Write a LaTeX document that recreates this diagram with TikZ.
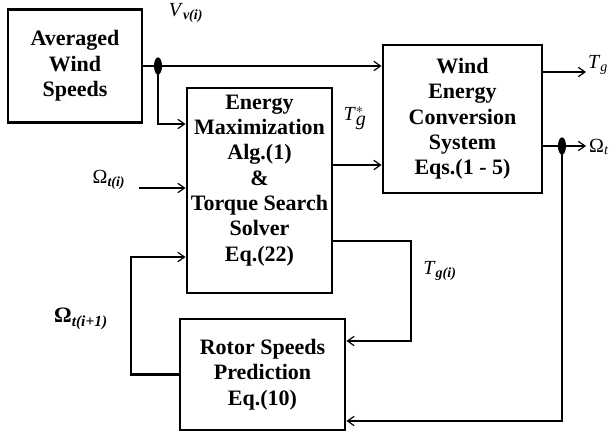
\documentclass[tikz,border=0pt]{standalone}
\usepackage{fontspec}
\setmainfont{Liberation Serif}
\usetikzlibrary{arrows.meta, shapes.geometric}

\begin{document}
\begin{tikzpicture}[x=0.75pt, y=-0.75pt,
    block/.style={draw, line width=2.2pt, align=center, inner sep=2pt,
        font=\bfseries\fontsize{16.5}{19}\selectfont},
    flow/.style={line width=2.2pt, -{Straight Barb[length=5pt, width=7pt, line width=0.9pt]}},
    sig/.style={inner sep=0pt, font=\fontsize{15}{17}\selectfont},
    dot/.style={fill, ellipse, inner sep=0pt, minimum width=6pt, minimum height=13pt}]
\useasboundingbox (0,0) rectangle (611,435);

% Blocks
\node[block, minimum width=134*0.75pt, minimum height=113*0.75pt] (avg) at (75,66) {Averaged\\Wind\\Speeds};
\node[block, minimum width=145*0.75pt, minimum height=205*0.75pt] (emax) at (259.5,190.5)
    {Energy\\Maximization\\Alg.(1)\\\&\\Torque Search\\Solver\\Eq.(22)\\ \mbox{}};
\node[block, minimum width=159*0.75pt, minimum height=148*0.75pt] (wecs) at (462.5,119)
    {Wind\\Energy\\Conversion\\System\\Eqs.(1 - 5)};
\node[block, minimum width=165*0.75pt, minimum height=111*0.75pt] (rsp) at (262.5,374.5)
    {Rotor Speeds\\Prediction\\Eq.(10)};

% Signal labels
\node[sig] (vv) at (186,13) {\textit{V}\textsubscript{\textbf{\textit{v(i)}}}};
\node[sig] (tstar) at (355,118) {\textit{T}$^{*}_{\textit{g}}$};
\node[sig] (tg) at (598,65) {\textit{T}\textsubscript{\textit{g}}};
\node[sig] (wt) at (599,147) {Ω\textsubscript{\textit{t}}};
\node[sig] (wti) at (109,180) {Ω\textsubscript{\textbf{\textit{t(i)}}}};
\node[sig, font=\bfseries\fontsize{16.5}{18}\selectfont] (wtnext) at (81,319) {Ω\textsubscript{\textit{t(i+1)}}};
\node[sig] (tgi) at (440,271) {\textit{T}\textsubscript{\textbf{\textit{g(i)}}}};

% Helper points
\coordinate (vjunc) at (158,66);
\coordinate (vbranch) at (158,124);
\coordinate (wtin) at (139,188);
\coordinate (tsout) at (332,165);
\coordinate (tgend) at (586,72);
\coordinate (wjunc) at (562,146);
\coordinate (wtend) at (586,146);
\coordinate (tgi1) at (411,241);
\coordinate (tgi2) at (411,341);
\coordinate (wret) at (562,421);
\coordinate (fb) at (131,257);

% Wind speeds
\draw[flow] (avg.east) -- (vjunc) -- (wecs.west |- vjunc);
\draw[flow] (vjunc) -- (vbranch) -- (emax.west |- vbranch);
\node[dot] (vdot) at (vjunc) {};

% Inputs to the solver
\draw[flow] (wtin) -- (emax.west |- wtin);
\draw[flow] (rsp.west) -| (fb) -- (emax.west |- fb);
\draw[flow] (emax.east |- tsout) -- (wecs.west |- tsout);

% Outputs of the conversion system
\draw[flow] (wecs.east |- tgend) -- (tgend);
\draw[flow] (wecs.east |- wjunc) -- (wtend);
\node[dot] (wdot) at (wjunc) {};

% Feedback to the prediction
\draw[flow] (emax.east |- tgi1) -- (tgi1) -- (tgi2) -- (rsp.east |- tgi2);
\draw[flow] (wjunc) -- (wret) -- (rsp.east |- wret);
\end{tikzpicture}
\end{document}
